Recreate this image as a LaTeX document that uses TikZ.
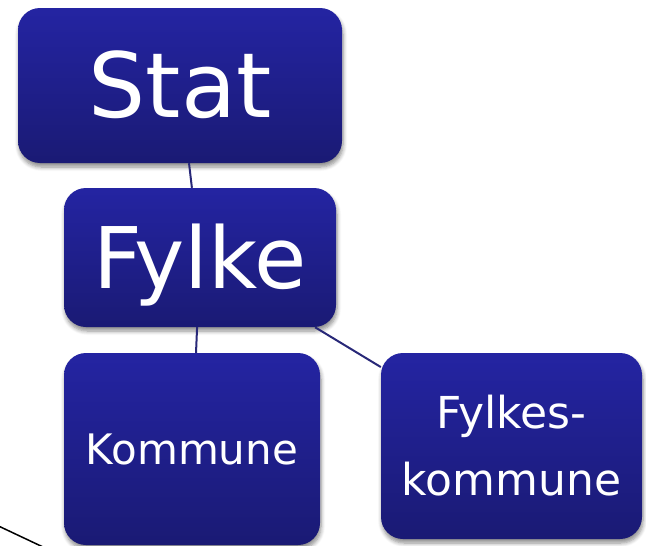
\documentclass[tikz,border=0pt]{standalone}
\usepackage{fontspec}
\setmainfont{DejaVu Sans}
\usetikzlibrary{shadows.blur}
\definecolor{boxtop}{RGB}{36,36,162}
\definecolor{boxbot}{RGB}{26,26,116}
\definecolor{linkcol}{RGB}{40,40,120}
\tikzset{
  orgbox/.style={rectangle, rounded corners=22pt, top color=boxtop, bottom color=boxbot,
    draw=none, text=white, inner sep=0pt, align=center,
    blur shadow={shadow xshift=1pt, shadow yshift=-4pt, shadow blur steps=6, shadow blur radius=4pt, shadow opacity=45}},
  link/.style={draw=linkcol, line width=2pt},
}
\begin{document}
\begin{tikzpicture}[x=1pt, y=-1pt]
\useasboundingbox (0,0) rectangle (646,546);
\node[orgbox, minimum width=324pt, minimum height=155pt, text height=64pt, text depth=0pt,
  font=\fontsize{90}{100}\selectfont] (stat) at (180,85.5) {Stat};
\node[orgbox, minimum width=272pt, minimum height=139pt, text height=61pt, text depth=0pt,
  font=\fontsize{85}{96}\selectfont] (fylke) at (200,257.5) {Fylke};
\node[orgbox, minimum width=256pt, minimum height=192pt, text height=30pt, text depth=0pt,
  font=\fontsize{42}{50}\selectfont] (kommune) at (192,449) {Kommune};
\node[orgbox, minimum width=261pt, minimum height=186pt,
  font=\fontsize{44}{67}\selectfont] (fk) at (511.5,446) {Fylkes-\\kommune};
\draw[link] (stat) -- (fylke);
\draw[link] (fylke) -- (kommune);
\draw[link] (fylke) -- (fk);
\coordinate (sa) at (-10,522);
\coordinate (sb) at (60,555);
\draw[black, line width=1.5pt] (sa) -- (sb);
\end{tikzpicture}
\end{document}
